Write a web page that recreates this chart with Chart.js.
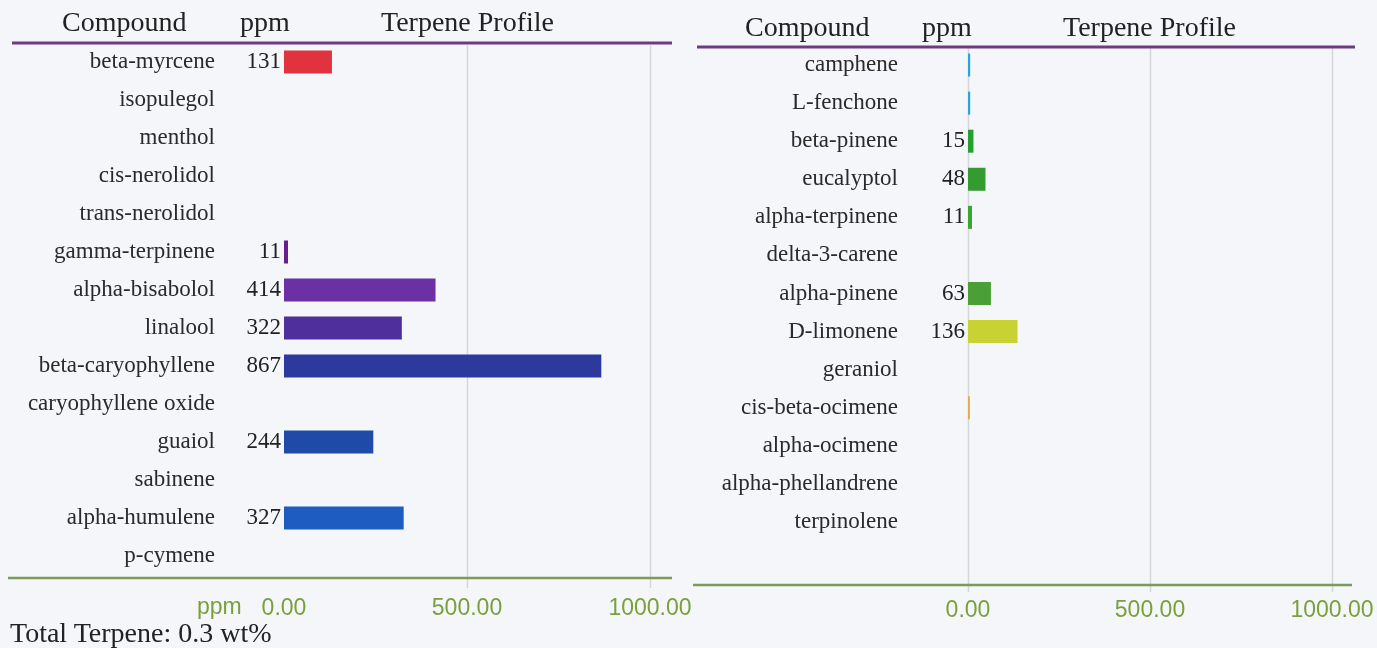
<!DOCTYPE html>
<html>
<head>
<meta charset="utf-8">
<script src="https://cdn.jsdelivr.net/npm/chart.js@4.4.1/dist/chart.umd.min.js"></script>
<style>
    body { margin: 0; width: 1377px; height: 648px; background: #f5f6fa; position: relative; overflow: hidden; font-family: "Liberation Serif", serif; }
    canvas { position: absolute; top: 0; }
    #left-chart { left: 0; }
    #right-chart { left: 690px; }
    .hdr { position: absolute; font-size: 28px; line-height: 28px; color: #222; white-space: nowrap; }
    .axis-unit { position: absolute; font-family: "Liberation Sans", sans-serif; font-size: 23px; line-height: 23px; color: #79a03c; }
</style>
</head>
<body>
<canvas id="left-chart" width="705" height="648"></canvas>
<canvas id="right-chart" width="687" height="648"></canvas>

<div class="hdr" style="left:62px; top:8px;">Compound</div>
<div class="hdr" style="left:240px; top:8px;">ppm</div>
<div class="hdr" style="left:381px; top:8px;">Terpene Profile</div>
<div class="hdr" style="left:745px; top:13px;">Compound</div>
<div class="hdr" style="left:922px; top:13px;">ppm</div>
<div class="hdr" style="left:1063px; top:13px;">Terpene Profile</div>
<div class="axis-unit" style="left:197px; top:595px;">ppm</div>
<div class="hdr" style="left:10px; top:619px;">Total Terpene: 0.3 wt%</div>

<script>
// data
const leftCompounds = ['beta-myrcene', 'isopulegol', 'menthol', 'cis-nerolidol', 'trans-nerolidol',
    'gamma-terpinene', 'alpha-bisabolol', 'linalool', 'beta-caryophyllene', 'caryophyllene oxide',
    'guaiol', 'sabinene', 'alpha-humulene', 'p-cymene'];
const leftPpm = [131, 0, 0, 0, 0, 11, 414, 322, 867, 0, 244, 0, 327, 0];

const rightCompounds = ['camphene', 'L-fenchone', 'beta-pinene', 'eucalyptol', 'alpha-terpinene',
    'delta-3-carene', 'alpha-pinene', 'D-limonene', 'geraniol', 'cis-beta-ocimene',
    'alpha-ocimene', 'alpha-phellandrene', 'terpinolene'];
const rightPpm = [6, 6, 15, 48, 11, 0, 63, 136, 0, 5, 0, 0, 0];

const axisTicks = [0, 500, 1000];
const labelMin = 10; // small amounts have no number next to them

// bar colours
const leftColors = ['#e0323f', '#b0306a', '#a03080', '#903090', '#803098', '#6a1e8c', '#6a30a4',
    '#4f2f9c', '#2b3a9c', '#24409f', '#1f4aa8', '#1f52b4', '#1f5cc2', '#1f66c8'];
const rightColors = ['#2aa6d6', '#2aa6d6', '#25a02f', '#359a30', '#3aa82f', '#48a030', '#4aa034',
    '#c8d232', '#d4c040', '#e2a84a', '#e09040', '#e07a40', '#e06a40'];

function framePlugin(g) {
    return {
        id: 'frame',
        beforeDatasetsDraw(chart) {
            const { ctx } = chart;
            const x = chart.scales.x;
            ctx.save();
            // vertical grid
            ctx.strokeStyle = '#d4d6da';
            ctx.lineWidth = 1.5;
            axisTicks.forEach((v) => {
                if (v === 0 && !g.zeroLine) return;
                const px = Math.round(x.getPixelForValue(v)) + 0.5;
                ctx.beginPath();
                ctx.moveTo(px, g.gridTop);
                ctx.lineTo(px, g.gridBottom);
                ctx.stroke();
            });
            // purple rule under the header
            ctx.strokeStyle = '#6e3b80';
            ctx.lineWidth = 3;
            ctx.beginPath();
            ctx.moveTo(g.topX0, g.topY);
            ctx.lineTo(g.topX1, g.topY);
            ctx.stroke();
            // green baseline
            ctx.strokeStyle = '#7e9a58';
            ctx.lineWidth = 2.5;
            ctx.beginPath();
            ctx.moveTo(g.botX0, g.botY);
            ctx.lineTo(g.botX1, g.botY);
            ctx.stroke();
            ctx.restore();
        },
        afterDatasetsDraw(chart) {
            const { ctx } = chart;
            const meta = chart.getDatasetMeta(0);
            const values = chart.data.datasets[0].data;
            ctx.save();
            ctx.font = '23px "Liberation Serif"';
            ctx.fillStyle = '#222';
            ctx.textAlign = 'right';
            ctx.textBaseline = 'middle';
            meta.data.forEach((bar, i) => {
                if (values[i] < labelMin) return;
                ctx.fillText(String(values[i]), bar.base - 3, bar.y);
            });
            ctx.restore();
        }
    };
}

function noPadding(s) {
    s.paddingTop = 0;
    s.paddingBottom = 0;
    s.paddingLeft = 0;
    s.paddingRight = 0;
}

function makeChart(id, labels, values, colors, g) {
    const pad = { top: g.area.top, right: g.right, left: 0, bottom: 0 };
    const chart = new Chart(document.getElementById(id), {
        type: 'bar',
        data: {
            labels: labels,
            datasets: [{ data: values, backgroundColor: colors, barThickness: 23, borderWidth: 0, inflateAmount: 0 }]
        },
        options: {
            indexAxis: 'y',
            responsive: false,
            animation: false,
            layout: { padding: pad },
            plugins: { legend: { display: false }, tooltip: { enabled: false } },
            scales: {
                x: {
                    min: 0,
                    max: 1000,
                    grid: { display: false, drawTicks: false },
                    border: { display: false },
                    ticks: {
                        stepSize: 500,
                        padding: g.tickPad,
                        color: '#79a03c',
                        font: { family: 'Liberation Sans', size: 23 },
                        maxRotation: 0,
                        autoSkip: false,
                        callback: (v) => Number(v).toFixed(2)
                    },
                    afterFit: (s) => { noPadding(s); s.height = g.xHeight; }
                },
                y: {
                    grid: { display: false, drawTicks: false },
                    border: { display: false },
                    ticks: {
                        padding: g.labelPad,
                        color: '#2a2a2a',
                        font: { family: 'Liberation Serif', size: 23 },
                        autoSkip: false
                    },
                    afterFit: (s) => { noPadding(s); s.width = g.yWidth; }
                }
            }
        },
        plugins: [framePlugin(g)]
    });
    // nudge the layout padding until the plot area sits where the report has it
    for (let k = 0; k < 3; k++) {
        const a = chart.chartArea;
        const dTop = g.area.top - a.top;
        const dRight = a.right - g.area.right;
        const dBottom = a.bottom - g.area.bottom;
        if (Math.abs(dTop) < 0.5 && Math.abs(dRight) < 0.5 && Math.abs(dBottom) < 0.5) break;
        pad.top = Math.max(0, pad.top + dTop);
        pad.right = Math.max(0, pad.right + dRight);
        pad.bottom = Math.max(0, pad.bottom + dBottom);
        chart.update();
    }
    return chart;
}

makeChart('left-chart', leftCompounds, leftPpm, leftColors, {
    area: { top: 43, right: 650, bottom: 575 },
    right: 55, yWidth: 284, xHeight: 73, tickPad: 20, labelPad: 69, zeroLine: false,
    gridTop: 45, gridBottom: 588,
    topX0: 12, topX1: 672, topY: 43,
    botX0: 8, botX1: 672, botY: 578
});

makeChart('right-chart', rightCompounds, rightPpm, rightColors, {
    area: { top: 46, right: 642, bottom: 541 },
    right: 45, yWidth: 278, xHeight: 107, tickPad: 56, labelPad: 70, zeroLine: true,
    gridTop: 48, gridBottom: 592,
    topX0: 7, topX1: 665, topY: 47,
    botX0: 3, botX1: 662, botY: 585
});
</script>
</body>
</html>
